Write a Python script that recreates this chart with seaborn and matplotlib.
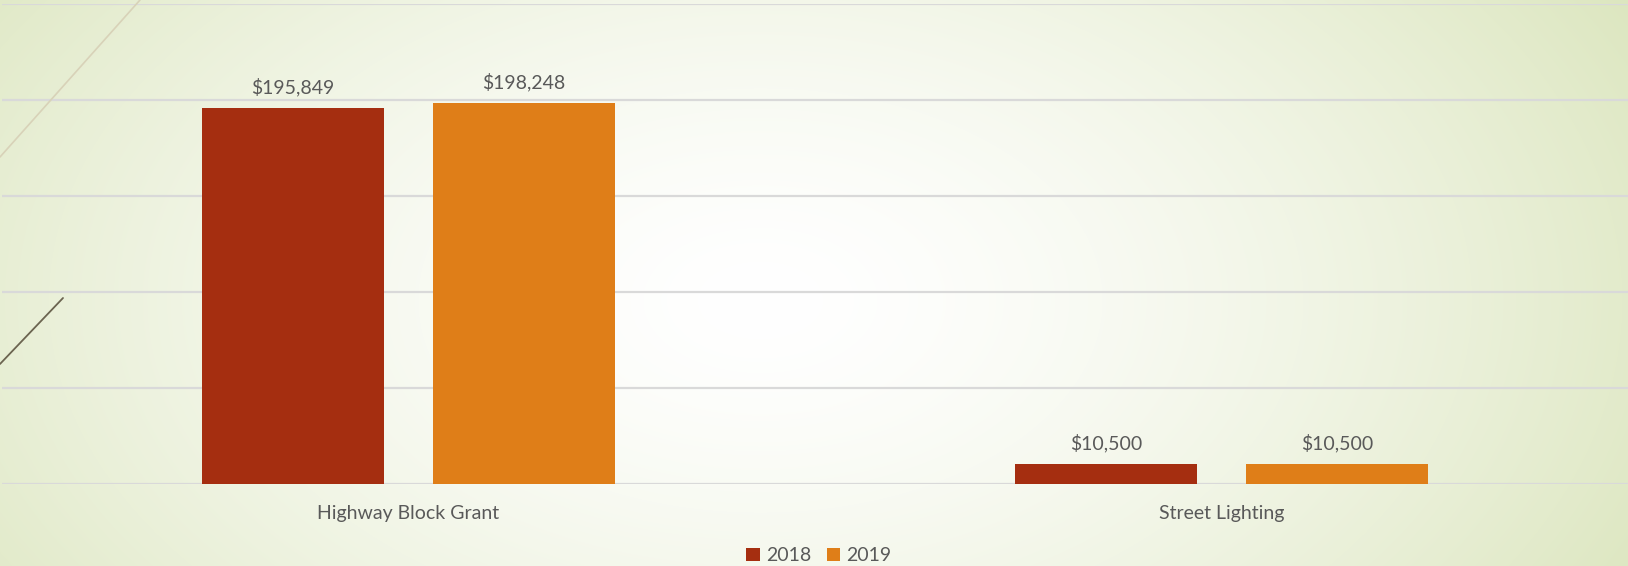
import numpy as np
import pandas as pd
import matplotlib
matplotlib.use("Agg")
import matplotlib.pyplot as plt
from matplotlib.lines import Line2D
from matplotlib.patches import Patch
import seaborn as sns

# Data
categories = ["Highway Block Grant", "Street Lighting"]
years = ["2018", "2019"]
values_2018 = [195849, 10500]
values_2019 = [198248, 10500]

df = pd.DataFrame({
    "category": categories * 2,
    "year": [years[0]] * 2 + [years[1]] * 2,
    "value": values_2018 + values_2019,
})

palette = {"2018": "#a52e10", "2019": "#df7e18"}
text_color = "#595959"
grid_color = "#d9d9d9"

sns.set_style("white")
plt.rcParams["font.family"] = ["Lato", "DejaVu Sans"]

fig = plt.figure(figsize=(16.28, 5.66), dpi=100)

# background radial gradient (white centre -> pale green edges)
bg = fig.add_axes([0, 0, 1, 1], zorder=-10)
h, w = 566, 1628
yy, xx = np.mgrid[0:h, 0:w]
d = np.sqrt(((xx - 760) / 1000.0) ** 2 + ((yy - 300) / 620.0) ** 2)
t = np.clip(d, 0, 1) ** 1.5
c0 = np.array([1.0, 1.0, 1.0])
c1 = np.array([0xdc, 0xe6, 0xbf]) / 255.0
img = c0 + (c1 - c0) * t[..., None]
bg.imshow(img, aspect="auto", extent=[0, 1, 0, 1], origin="upper")
bg.axis("off")

# decorative thin lines at top-left
fig.add_artist(Line2D([0, 140 / w], [1 - 157 / h, 1.0], color="#d8d2b8", lw=1.2))
fig.add_artist(Line2D([0, 63 / w], [1 - 364 / h, 1 - 298 / h], color="#6b6450", lw=1.3))

ax = fig.add_axes([2 / w, 1 - 484 / h, 1 - 2 / w, (484 - 3.5) / h])
ax.set_facecolor("none")

sns.barplot(
    data=df, x="category", y="value", hue="year",
    order=categories, hue_order=years, palette=palette,
    width=0.568, gap=0.212, saturation=1, linewidth=0, ax=ax, legend=False,
)

for cont in ax.containers:
    ax.bar_label(cont, labels=[f"${v:,.0f}" for v in cont.datavalues],
                 padding=8, fontsize=14, color=text_color)

ax.set_ylim(0, 250000)
ax.set_yticks(np.arange(0, 250001, 50000))
ax.set_yticklabels([])
ax.yaxis.grid(True, color=grid_color, linewidth=1.6)
ax.set_axisbelow(True)
for s in ax.spines.values():
    s.set_visible(False)
ax.tick_params(axis="both", length=0)
ax.tick_params(axis="x", pad=15, labelsize=14, labelcolor=text_color)
ax.set_xlabel("")
ax.set_ylabel("")

handles = [Patch(facecolor=palette[y], edgecolor="none", label=y) for y in years]
fig.legend(handles=handles, loc="lower center", bbox_to_anchor=(0.503, -0.028),
           ncol=2, frameon=False, fontsize=14, labelcolor=text_color,
           handlelength=0.7, handleheight=0.7, handletextpad=0.3,
           columnspacing=0.8)

fig.savefig("out.png", dpi=100)
